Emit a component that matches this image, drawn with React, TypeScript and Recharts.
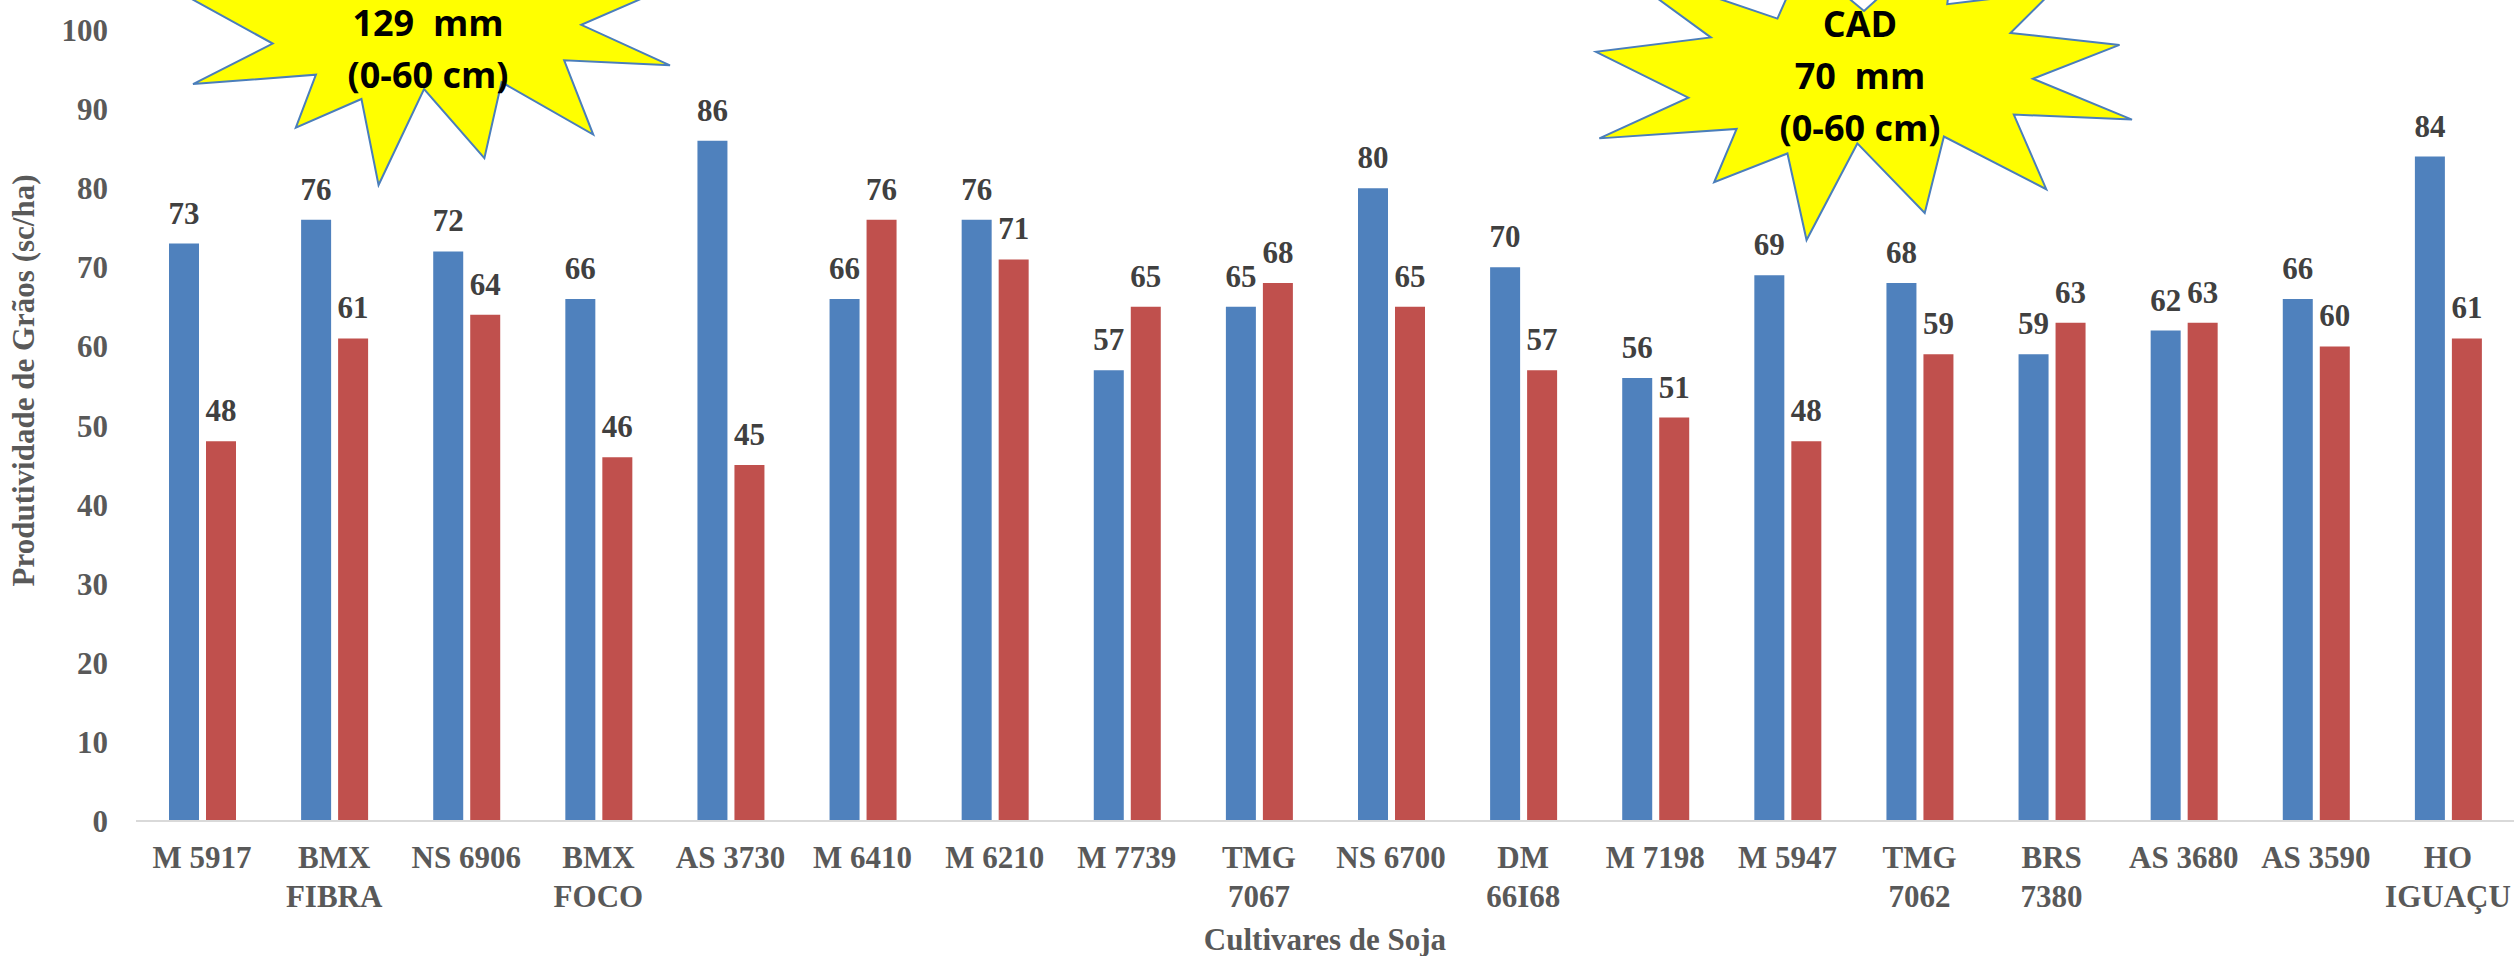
import React from 'react';
import { BarChart, Bar, XAxis, YAxis, LabelList } from 'recharts';

// cultivares avaliadas
const cultivares = [
  'M 5917', 'BMX FIBRA', 'NS 6906', 'BMX FOCO', 'AS 3730', 'M 6410',
  'M 6210', 'M 7739', 'TMG 7067', 'NS 6700', 'DM 66I68', 'M 7198',
  'M 5947', 'TMG 7062', 'BRS 7380', 'AS 3680', 'AS 3590', 'HO IGUAÇU',
];
// produtividade (sc/ha) - CAD 129 mm (azul) e CAD 70 mm (vermelho)
const cad129 = [73, 76, 72, 66, 86, 66, 76, 57, 65, 80, 70, 56, 69, 68, 59, 62, 66, 84];
const cad70 = [48, 61, 64, 46, 45, 76, 71, 65, 68, 65, 57, 51, 48, 59, 63, 63, 60, 61];
const yTicks = [0, 10, 20, 30, 40, 50, 60, 70, 80, 90, 100];

const data = cultivares.map((name, i) => ({ name, cad129: cad129[i], cad70: cad70[i] }));

const W = 2514;
const H = 956;
const serif = "'Liberation Serif', 'Times New Roman', serif";
const gray = '#595959';

// forma "explosao" (irregularSeal1) em unidades 21600
const SEAL = [
  [10800, 5800], [14522, 0], [14155, 5325], [18380, 4457], [16702, 7315],
  [21097, 8137], [17607, 10475], [21600, 13290], [16837, 12942], [18145, 18095],
  [14020, 14457], [13247, 19737], [10532, 14935], [8485, 21600], [7715, 15627],
  [4762, 17617], [5667, 13937], [135, 14587], [3722, 11775], [0, 8615],
  [4627, 7617], [370, 2295], [7312, 6320], [8352, 2295],
];

const sealPoints = (x: number, y: number, w: number, h: number) =>
  SEAL.map(([px, py]) => `${x + (px * w) / 21600},${y + (py * h) / 21600}`).join(' ');

const CategoryTick = (props: any) => {
  const { x, y, payload } = props;
  const name: string = payload.value;
  const sp = name.indexOf(' ');
  const lines = name.length > 7 ? [name.slice(0, sp), name.slice(sp + 1)] : [name];
  return (
    <text x={x} y={y} textAnchor="middle" fill={gray} fontFamily={serif} fontWeight={700} fontSize={31}>
      {lines.map((l, i) => (
        <tspan key={i} x={x} dy={i === 0 ? 0 : 39}>
          {l}
        </tspan>
      ))}
    </text>
  );
};

const YTitle = (props: any) => {
  const vb = props.viewBox || {};
  const cx = 23;
  const cy = (vb.y ?? 30) + (vb.height ?? 791) / 2 - 45;
  return (
    <text
      x={cx}
      y={cy}
      transform={`rotate(-90 ${cx} ${cy})`}
      textAnchor="middle"
      dominantBaseline="central"
      fill={gray}
      fontFamily={serif}
      fontWeight={700}
      fontSize={31}
    >
      Produtividade de Grãos (sc/ha)
    </text>
  );
};

const Star = ({ box, cx, lines, firstBaseline }: any) => (
  <g>
    <polygon points={sealPoints(box[0], box[1], box[2], box[3])} fill="#FFFF00" stroke="#4A7EBB" strokeWidth={2} />
    {lines.map((t: string, i: number) => (
      <text
        key={i}
        x={cx}
        y={firstBaseline + i * 52}
        textAnchor="middle"
        fontFamily="'Open Sans', Carlito, sans-serif"
        fontWeight={700}
        fontSize={36}
        fill="#000"
        style={{ whiteSpace: 'pre' }}
      >
        {t}
      </text>
    ))}
  </g>
);

export default function App() {
  return (
    <div style={{ position: 'absolute', left: 0, top: 0, width: W, height: H, background: '#fff', overflow: 'hidden' }}>
      <BarChart width={W} height={H} data={data} margin={{ top: 30, right: 0, left: 0, bottom: 0 }} barSize={30} barGap={7}>
        <XAxis
          dataKey="name"
          interval={0}
          height={135}
          tick={<CategoryTick />}
          tickLine={false}
          tickSize={0}
          tickMargin={47}
          axisLine={{ stroke: '#D9D9D9', strokeWidth: 2 }}
          label={{
            value: 'Cultivares de Soja',
            position: 'insideBottom',
            offset: 6,
            fill: gray,
            fontSize: 31,
            fontWeight: 700,
            fontFamily: serif,
          }}
        />
        <YAxis
          type="number"
          domain={[0, 100]}
          ticks={yTicks}
          interval={0}
          width={136}
          axisLine={false}
          tickLine={false}
          tickSize={0}
          tickMargin={28}
          tick={{ fill: gray, fontSize: 31, fontWeight: 700, fontFamily: serif }}
          label={{ content: (p: any) => <YTitle {...p} /> }}
        />
        <Bar dataKey="cad129" fill="#4F81BD" isAnimationActive={false}>
          <LabelList dataKey="cad129" position="top" offset={20} fill="#404040" fontSize={31} fontWeight={700} fontFamily={serif} />
        </Bar>
        <Bar dataKey="cad70" fill="#C0504D" isAnimationActive={false}>
          <LabelList dataKey="cad70" position="top" offset={20} fill="#404040" fontSize={31} fontWeight={700} fontFamily={serif} />
        </Bar>
      </BarChart>
      <svg width={W} height={H} style={{ position: 'absolute', left: 0, top: 0, pointerEvents: 'none' }}>
        <Star box={[190, -126, 480, 311]} cx={428} lines={['129  mm', '(0-60 cm)']} firstBaseline={36} />
        <Star box={[1596, -73, 536, 313]} cx={1860} lines={['CAD', '70  mm', '(0-60 cm)']} firstBaseline={37} />
      </svg>
    </div>
  );
}
